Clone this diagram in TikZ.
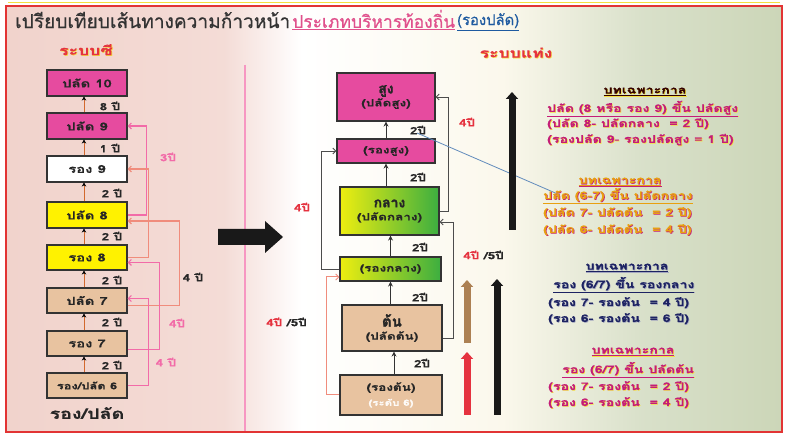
\documentclass[tikz,border=0pt]{standalone}
\usepackage{fontspec}
\setmainfont{Loma}[Script=Thai]
\newfontfamily\wf{Loma}[Script=Thai, FakeStretch=1.35, BoldFeatures={FakeStretch=1.35, FakeBold=0.6}]
\newfontfamily\hv{Loma}[Script=Thai, FakeBold=1.6]
\newfontfamily\tf{Loma}[Script=Thai, FakeBold=0.7]
\usepackage{graphicx}
\usetikzlibrary{arrows.meta}
\definecolor{pbg}{HTML}{F1D3CC}
\definecolor{gbg}{HTML}{CCD6B8}
\definecolor{cream}{HTML}{FBF8EC}
\definecolor{frame}{HTML}{E23434}
\definecolor{magbox}{HTML}{E64B9F}
\definecolor{ylwbox}{HTML}{FFF200}
\definecolor{peach}{HTML}{E8C3A0}
\definecolor{yg}{HTML}{EEEE10}
\definecolor{gg}{HTML}{3CAE40}
\definecolor{pinkl}{HTML}{F26BA8}
\definecolor{salm}{HTML}{F08C7C}
\definecolor{orl}{HTML}{D2692E}
\definecolor{redt}{HTML}{E5323F}
\definecolor{navy}{HTML}{1C2262}
\definecolor{magt}{HTML}{C41C78}
\definecolor{oran}{HTML}{E8A010}
\definecolor{shy}{HTML}{F4E040}
\definecolor{titlepk}{HTML}{E0508C}
\definecolor{titlebl}{HTML}{1E5AA0}
\pgfdeclarehorizontalshading{bgsh}{100bp}{color(0bp)=(pbg); color(25bp)=(pbg); color(39bp)=(pbg!80!white); color(44bp)=(white); color(57bp)=(cream); color(66bp)=(gbg!75!white); color(75bp)=(gbg); color(100bp)=(gbg)}
\newcommand\glowtxt[3]{\leavevmode\rlap{\kern0.7pt\raisebox{-0.7pt}{\color{#2}#3}}{\color{#1}#3}}
\tikzset{
  bx/.style={draw=black!80, line width=1.1pt, inner sep=0pt, align=center, text=black!85, font=\wf\bfseries\fontsize{11}{12}\selectfont},
  upar/.style={draw=orl, line width=1pt, -{Stealth[length=4pt,width=4.5pt,color=black]}},
  rupar/.style={draw=black!80, line width=1pt, -{Stealth[length=5pt,width=5pt]}},
  yrs/.style={font=\wf\bfseries\fontsize{10}{11}\selectfont, text=black!85, inner sep=0pt},
  pk/.style={draw=pinkl, line width=1.2pt, -{Straight Barb[length=3pt,width=6pt]}},
  sk/.style={draw=salm, line width=1.2pt, -{Straight Barb[length=3pt,width=6pt]}},
  dk/.style={draw=black!70, line width=0.9pt, -{Straight Barb[length=3pt,width=6pt]}},
  txt/.style={inner sep=0pt, font=\wf\bfseries\fontsize{10.5}{12}\selectfont},
  hdr/.style={inner sep=0pt, font=\wf\bfseries\fontsize{13}{14}\selectfont},
  bigar/.style={line width=7pt}
}
\begin{document}
\begin{tikzpicture}[x=1pt,y=-1pt]
\useasboundingbox (0,0) rectangle (788,438);
\fill[white] (0,0) rectangle (788,438);
% background
\shade[shading=bgsh] (7,7) rectangle (781,431);
\draw[frame, line width=2.6pt] (6,6) rectangle (782,432);
\draw[shy, line width=1pt] (8,3) -- (780,3);
% title
\node[inner sep=0pt, anchor=west, text=black!80] (t1) at (15,20) {\resizebox{275pt}{!}{\tf\fontsize{16}{18}\selectfont เปรียบเทียบเส้นทางความก้าวหน้า}};
\node[inner sep=0pt, anchor=west, text=titlepk] (t2) at (292,20) {\resizebox{163pt}{!}{\tf\fontsize{16}{18}\selectfont \underline{ประเภทบริหารท้องถิ่น}}};
\node[inner sep=0pt, anchor=west, text=titlebl] (t3) at (457,22) {\resizebox{62pt}{!}{\tf\fontsize{11}{12}\selectfont \underline{(รองปลัด)}}};
% headers
\node[hdr] (hc) at (86,50) {\glowtxt{redt}{shy}{ระบบซี}};
\node[hdr] (hb) at (516,53) {\glowtxt{redt}{shy}{ระบบแท่ง}};
% separator
\coordinate (sepA) at (245,65);
\coordinate (sepB) at (245,431);
\draw[pinkl!70, line width=1.2pt] (sepA) -- (sepB);
% left boxes
\node[bx, fill=magbox, minimum width=80pt, minimum height=26pt] (p10) at (87,83) {ปลัด 10};
\node[bx, fill=magbox, minimum width=80pt, minimum height=26pt] (p9) at (87,126) {ปลัด 9};
\node[bx, fill=white, minimum width=80pt, minimum height=26pt] (r9) at (87,169) {รอง 9};
\node[bx, fill=ylwbox, minimum width=80pt, minimum height=26pt] (p8) at (87,215) {ปลัด 8};
\node[bx, fill=ylwbox, minimum width=80pt, minimum height=25pt] (r8) at (87,257.5) {รอง 8};
\node[bx, fill=peach, minimum width=80pt, minimum height=25pt] (p7) at (87,300.5) {ปลัด 7};
\node[bx, fill=peach, minimum width=80pt, minimum height=25pt] (r7) at (87,343.5) {รอง 7};
\node[bx, fill=peach, minimum width=80pt, minimum height=25pt, font=\wf\bfseries\fontsize{9.5}{11}\selectfont] (r6) at (87,385.5) {รอง/ปลัด 6};
\node[inner sep=0pt, font=\wf\bfseries\fontsize{14.5}{16}\selectfont, text=black!85] (rp) at (87,413) {รอง/ปลัด};
% left up arrows
\draw[upar] ([xshift=-3pt]p9.north) -- ([xshift=-3pt]p10.south);
\draw[upar] ([xshift=-3pt]r9.north) -- ([xshift=-3pt]p9.south);
\draw[upar] ([xshift=-3pt]p8.north) -- ([xshift=-3pt]r9.south);
\draw[upar] ([xshift=-3pt]r8.north) -- ([xshift=-3pt]p8.south);
\draw[upar] ([xshift=-3pt]p7.north) -- ([xshift=-3pt]r8.south);
\draw[upar] ([xshift=-3pt]r7.north) -- ([xshift=-3pt]p7.south);
\draw[upar] ([xshift=-3pt]r6.north) -- ([xshift=-3pt]r7.south);
\node[yrs] (l1) at (110,106) {8 ปี};
\node[yrs] (l2) at (110,148) {1 ปี};
\node[yrs] (l3) at (112,193) {2 ปี};
\node[yrs] (l4) at (112,236) {2 ปี};
\node[yrs] (l5) at (112,280) {2 ปี};
\node[yrs] (l6) at (112,322) {2 ปี};
\node[yrs] (l7) at (112,365) {2 ปี};
% left side connectors
\draw[pk] (p8.east) -- ++(19,0) |- (p9.east);
\draw[sk] (r8.east) -- ++(21,0) |- (r9.east);
\draw[sk] ([yshift=-5pt]p7.east) -- ++(52,0) |- ([yshift=-6pt]p8.east);
\draw[pk] ([yshift=-6pt]r7.east) -- ++(32,0) |- ([yshift=-5pt]r8.east);
\draw[pk] (r6.east) -- ++(21,0) |- ([yshift=2pt]p7.east);
\node[yrs, text=pinkl] (s1) at (168,157) {3ปี};
\node[yrs] (s2) at (193,277) {4 ปี};
\node[yrs, text=pinkl] (s3) at (177,323) {4ปี};
\node[yrs, text=pinkl] (s4) at (166,362) {4 ปี};
% big black arrow
\fill[black!90] (218,229) -- (265,229) -- (265,221) -- (283,237) -- (265,253) -- (265,245) -- (218,245) -- cycle;
% right boxes
\node[bx, fill=magbox, minimum width=98pt, minimum height=48pt] (s) at (386,97) {{\hv\fontsize{14}{16}\selectfont สูง}\\[1pt]{\fontsize{10}{11}\selectfont (ปลัดสูง)}};
\node[bx, fill=magbox, minimum width=98pt, minimum height=24pt, font=\wf\bfseries\fontsize{10}{11}\selectfont] (rs) at (386,151) {(รองสูง)};
\node[bx, left color=yg, right color=gg, minimum width=99pt, minimum height=48pt] (k) at (389.5,211) {{\hv\fontsize{14}{16}\selectfont กลาง}\\[1pt]{\fontsize{10}{11}\selectfont (ปลัดกลาง)}};
\node[bx, left color=yg, right color=gg, minimum width=101pt, minimum height=24pt, font=\wf\bfseries\fontsize{10}{11}\selectfont] (rk) at (390.5,269) {(รองกลาง)};
\node[bx, fill=peach, minimum width=100pt, minimum height=46pt] (t) at (392,328) {{\hv\fontsize{15}{16}\selectfont ต้น}\\[1pt]{\fontsize{10}{11}\selectfont (ปลัดต้น)}};
\node[bx, fill=peach, minimum width=102pt, minimum height=40pt] (rt) at (391,395) {{\fontsize{10}{11}\selectfont (รองต้น)}\\[3pt]{\fontsize{8.5}{10}\selectfont\color{white!92!peach}(ระดับ 6)}};
% right up arrows
\draw[rupar] (rs.north) -- (s.south);
\draw[rupar] (k.north -| rs.south) -- (rs.south);
\draw[rupar] (rk.north) -- (rk.north |- k.south);
\draw[rupar] (t.north -| rk.north) -- (rk.south);
\draw[rupar] (rt.north -| 394,0) -- (t.south -| 394,0);
\node[yrs] (m1) at (418,130) {2ปี};
\node[yrs] (m2) at (418,177) {2ปี};
\node[yrs] (m3) at (420,247) {2ปี};
\node[yrs] (m4) at (420,297) {2ปี};
\node[yrs] (m5) at (422,363) {2ปี};
% right connectors
\draw[dk] (k.east) -- ++(9,0) |- (s.east);
\draw[dk] ([yshift=-10pt]t.east) -- ++(11,0) |- ([yshift=-11pt]k.east);
\draw[dk] (rk.west) -- ++(-18,0) |- (rs.west);
\draw[sk, line width=1pt] (rt.west) -- ++(-13,0) |- ([yshift=-8pt]rk.west);
\node[yrs, text=redt] (n1) at (467,122) {4ปี};
\node[yrs, text=redt] (n2) at (302,207) {4ปี};
\node[yrs, anchor=west] (n3) at (463,255) {\textcolor{redt}{4ปี} /5ปี};
\node[yrs, anchor=west] (n4) at (266,322) {\textcolor{redt}{4ปี} /5ปี};
% blue line
\coordinate (blA) at (417,133);
\coordinate (blB) at (560,195);
\draw[titlebl!70, line width=0.8pt] (blA) -- (blB);
% vertical thick arrows
\draw[bigar, black!90, -{Triangle[length=7pt,width=12pt]}] (512,230) -- (512,92);
\draw[bigar, brown!70!gray, -{Triangle[length=7pt,width=12pt]}] (467,343) -- (467,280);
\draw[bigar, redt, -{Triangle[length=7pt,width=12pt]}] (467,415) -- (467,352);
\draw[bigar, black!90, -{Triangle[length=7pt,width=12pt]}] (497,415) -- (497,279);
% right text blocks
\node[txt] (b1h) at (645,92) {\glowtxt{black!80!red}{shy}{\underline{บทเฉพาะกาล}}};
\node[txt, anchor=west] (b1a) at (547,109) {\glowtxt{magt}{shy}{\underline{ปลัด (8 หรือ รอง 9) ขึ้น ปลัดสูง}}};
\node[txt, anchor=west] (b1b) at (547,124) {\glowtxt{magt}{shy}{(ปลัด 8- ปลัดกลาง\ \ = 2 ปี)}};
\node[txt, anchor=west] (b1c) at (547,140) {\glowtxt{magt}{shy}{(รองปลัด 9- รองปลัดสูง = 1 ปี)}};
\node[txt] (b2h) at (620,182) {\glowtxt{oran}{magt}{\underline{บทเฉพาะกาล}}};
\node[txt, anchor=west] (b2a) at (543,196) {\glowtxt{oran}{magt}{\underline{ปลัด (6-7) ขึ้น ปลัดกลาง}}};
\node[txt, anchor=west] (b2b) at (543,213) {\glowtxt{oran}{magt}{(ปลัด 7- ปลัดต้น\ \ = 2 ปี)}};
\node[txt, anchor=west] (b2c) at (543,230) {\glowtxt{oran}{magt}{(ปลัด 6- ปลัดต้น\ \ = 4 ปี)}};
\node[txt] (b3h) at (627,268) {\glowtxt{navy}{navy!40}{\underline{บทเฉพาะกาล}}};
\node[txt, anchor=west] (b3a) at (553,285) {\glowtxt{navy}{navy!40}{\underline{รอง (6/7)\ ขึ้น\ รองกลาง}}};
\node[txt, anchor=west] (b3b) at (548,303) {\glowtxt{navy}{navy!40}{(รอง 7- รองต้น\ \ = 4 ปี)}};
\node[txt, anchor=west] (b3c) at (548,319) {\glowtxt{navy}{navy!40}{(รอง 6- รองต้น\ \ = 6 ปี)}};
\node[txt] (b4h) at (633,352) {\glowtxt{magt}{shy}{\underline{บทเฉพาะกาล}}};
\node[txt, anchor=west] (b4a) at (562,370) {\glowtxt{magt}{shy}{\underline{รอง (6/7)\ ขึ้น ปลัดต้น}}};
\node[txt, anchor=west] (b4b) at (548,387) {\glowtxt{magt}{shy}{(รอง 7- รองต้น\ \ = 2 ปี)}};
\node[txt, anchor=west] (b4c) at (548,403) {\glowtxt{magt}{shy}{(รอง 6- รองต้น\ \ = 4 ปี)}};
\end{tikzpicture}
\end{document}
